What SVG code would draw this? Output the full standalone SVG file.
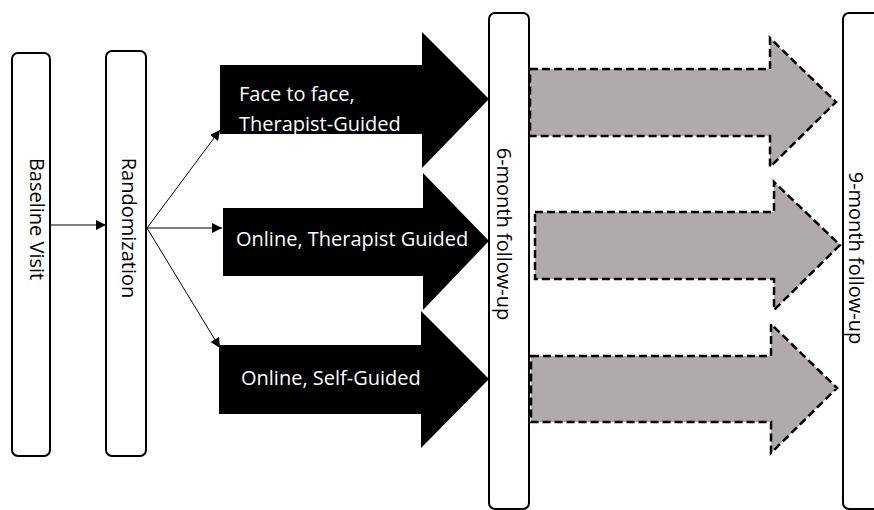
<svg xmlns="http://www.w3.org/2000/svg" width="874" height="510" viewBox="0 0 874 510">
<style>
.box{fill:#fff;stroke:#000;stroke-width:2}
.lbl{font-family:"Open Sans","Noto Sans","Liberation Sans",sans-serif;font-size:20px;fill:#000}
.wl{font-family:"Open Sans","Noto Sans","Liberation Sans",sans-serif;font-size:20px;fill:#fff}
.blk{fill:#000}
.gry{fill:#AFABAB;stroke:#000;stroke-width:2.5;stroke-dasharray:8 4}
.con{stroke:#000;stroke-width:1;fill:none;marker-end:url(#ah)}
</style>
<defs>
<marker id="ah" viewBox="0 0 10 10" refX="10" refY="5" markerWidth="10" markerHeight="10" markerUnits="userSpaceOnUse" orient="auto">
<path d="M0,0 L10,5 L0,10 z" fill="#000"/>
</marker>
</defs>
<rect width="874" height="510" fill="#fff"/>
<g id="baseline">
<rect class="box" x="12" y="53" width="38" height="403" rx="6"/>
<text class="lbl" text-anchor="middle" transform="translate(30,219) rotate(90)">Baseline Visit</text>
</g>
<g id="randomization">
<rect class="box" x="106" y="51" width="40" height="405" rx="6"/>
<text class="lbl" text-anchor="middle" transform="translate(122,228) rotate(90)">Randomization</text>
</g>
<g id="arm1">
<polygon class="blk" points="220,65 422,65 422,32 489,99 422,168 422,134 220,134"/>
<text class="wl" x="239" y="101">Face to face,</text>
<text class="wl" x="239" y="131">Therapist-Guided</text>
</g>
<g id="arm2">
<polygon class="blk" points="223,208 423,208 423,173 489,241 423,310 423,276 223,276"/>
<text class="wl" x="236" y="246">Online, Therapist Guided</text>
</g>
<g id="arm3">
<polygon class="blk" points="219,345 421,345 421,311 489,379 421,448 421,414 219,414"/>
<text class="wl" x="241" y="385">Online, Self-Guided</text>
</g>
<g id="followup6">
<rect class="box" x="489" y="13" width="40" height="496" rx="6"/>
<text class="lbl" text-anchor="middle" transform="translate(497,234) rotate(90)">6-month follow-up</text>
</g>
<g id="followup9">
<rect class="box" x="843" y="13" width="40" height="496" rx="6"/>
<text class="lbl" text-anchor="middle" transform="translate(849,258) rotate(90)">9-month follow-up</text>
</g>
<g id="gray1">
<polygon class="gry" points="530,69 770,69 770,38 836,102 770,167 770,136 530,136"/>
</g>
<g id="gray2">
<polygon class="gry" points="535,212 774,212 774,182 840,245 774,310 774,279 535,279"/>
</g>
<g id="gray3">
<polygon class="gry" points="531,356 771,356 771,324 837,388 771,453 771,422 531,422"/>
</g>
<g id="connectors">
<line class="con" x1="50" y1="225" x2="106" y2="225"/>
<line class="con" x1="147" y1="228" x2="220" y2="130"/>
<line class="con" x1="147" y1="228" x2="222" y2="228"/>
<line class="con" x1="147" y1="228" x2="220" y2="348"/>
</g>
</svg>
